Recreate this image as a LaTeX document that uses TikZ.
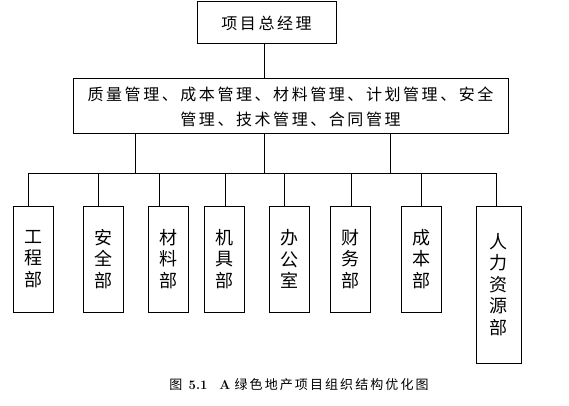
\documentclass[tikz,border=0pt]{standalone}
\usepackage{fontspec}
\newfontfamily\cjk[LetterSpace=16]{Noto Sans CJK SC}
\tikzstyle{boxh}=[draw,rectangle,line width=1pt,inner sep=0pt,font=\cjk\fontsize{16}{25}\selectfont,align=center]
\tikzstyle{boxv}=[draw,rectangle,line width=1pt,inner sep=0pt,minimum width=40pt,minimum height=106pt,font=\cjk\fontsize{18}{21.5}\selectfont,align=center]
\tikzstyle{link}=[line width=1pt]

\begin{document}
\begin{tikzpicture}[x=1pt,y=-1pt]
    \useasboundingbox (0,0) rectangle (569,406);
    \node[boxh,minimum width=139pt,minimum height=42pt] (top) at (266.5,23) {项目总经理};
    \node[boxh,minimum width=435pt,minimum height=55pt] (mid) at (290.5,106.5)
        {质量管理、成本管理、材料管理、计划管理、安全\\管理、技术管理、合同管理};

    \node[boxv] (d1) at (33,259)    {工\\程\\部};
    \node[boxv] (d2) at (103,259)   {安\\全\\部};
    \node[boxv] (d3) at (168.5,259) {材\\料\\部};
    \node[boxv] (d4) at (224,259)   {机\\具\\部};
    \node[boxv] (d5) at (289.5,259) {办\\公\\室};
    \node[boxv] (d6) at (350.5,259) {财\\务\\部};
    \node[boxv] (d7) at (421,259)   {成\\本\\部};
    \node[boxv,minimum width=45pt,minimum height=157pt] (d8) at (498.5,284.5) {人\\力\\资\\源\\部};

    % bus points
    \coordinate (t1) at (264,44);
    \foreach \i/\x in {1/135,2/264,3/390}
        \coordinate (m\i) at (\x,173);
    \foreach \i/\x in {1/28,2/98,3/159,4/225,5/284,6/351,7/421,8/496}
        \coordinate (j\i) at (\x,173);

    \draw[link] (t1) -- (t1 |- mid.north);
    \foreach \i in {1,2,3}
        \draw[link] (m\i |- mid.south) -- (m\i);
    \draw[link] (j1) -- (j8);
    \foreach \i in {1,...,8}
        \draw[link] (j\i) -- (j\i |- d\i.north);

    \node[font=\fontsize{13}{15}\selectfont] (cap) at (299,385)
        {{\cjk 图} \textbf{5.1}\hspace{12pt}\textbf{A} {\cjk 绿色地产项目组织结构优化图}};
\end{tikzpicture}
\end{document}
